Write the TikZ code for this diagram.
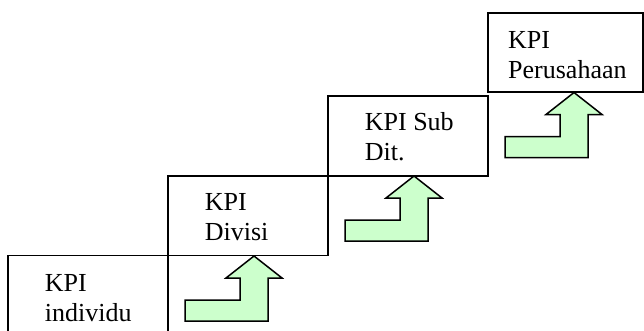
\documentclass[tikz,border=0pt]{standalone}
\usepackage{fontspec}
\setmainfont{Liberation Serif}
\definecolor{stepgreen}{HTML}{CCFFCC}
\tikzset{
  levelbox/.style={draw=black, line width=1.6pt},
  lbl/.style={anchor=base west, inner sep=0pt, font=\fontsize{26}{30}\selectfont},
  arrowfill/.style={draw=black, fill=stepgreen, line width=1.5pt, line join=miter},
  steparrow/.pic={
    \path[arrowfill] (0,0) -- (28,22) -- (14,22) -- (14,65) -- (-69,65)
      -- (-69,44) -- (-14,44) -- (-14,22) -- (-28,22) -- cycle;
  }
}
\begin{document}
\begin{tikzpicture}[x=1pt,y=-1pt]
  \clip (0,0) rectangle (644,330);
  \fill[white] (0,0) rectangle (644,330);

  % level boxes, rising to the right
  \draw[levelbox] (8,255.5) rectangle (168,345);
  \draw[levelbox] (168,176) rectangle (328,255.5);
  \draw[levelbox] (328,96) rectangle (488,176);
  \draw[levelbox] (488,13) rectangle (643,92);

  % labels
  \node[lbl] (t1a) at (44.7,291) {KPI};
  \node[lbl] (t1b) at (44.7,321) {individu};
  \node[lbl] (t2a) at (204.7,210.7) {KPI};
  \node[lbl] (t2b) at (204.7,240.7) {Divisi};
  \node[lbl] (t3a) at (364.7,130.7) {KPI Sub};
  \node[lbl] (t3b) at (364.7,160.7) {Dit.};
  \node[lbl] (t4a) at (508,48.3) {KPI};
  \node[lbl] (t4b) at (508,78.3) {Perusahaan};

  % step-up arrows
  \pic (a1) at (254,256) {steparrow};
  \pic (a2) at (414,176) {steparrow};
  \pic (a3) at (574,92.5) {steparrow};
\end{tikzpicture}
\end{document}
